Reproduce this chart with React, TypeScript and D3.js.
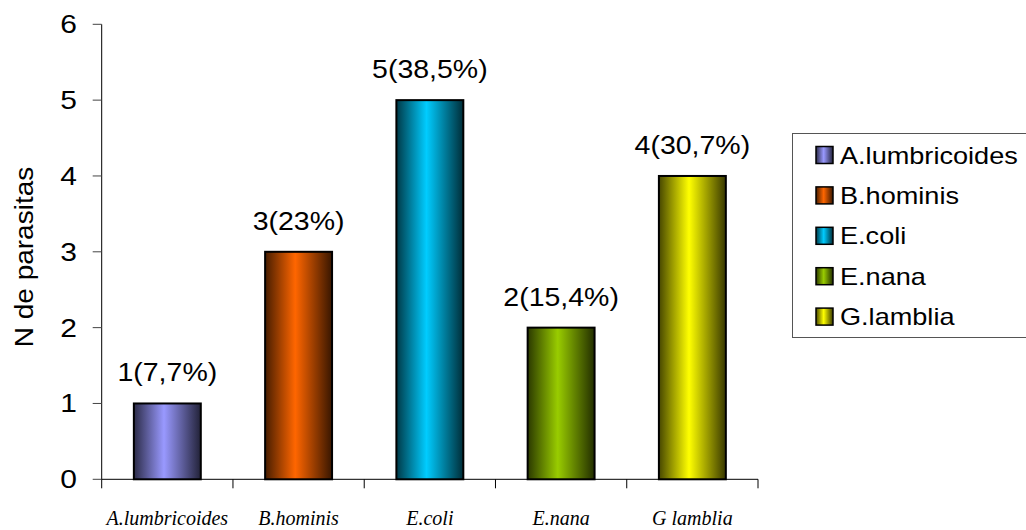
import React from "react";
import * as d3 from "d3";

// Parasite counts per species
const categories = ["A.lumbricoides", "B.hominis", "E.coli", "E.nana", "G.lamblia"];
const axisLabels = ["A.lumbricoides", "B.hominis", "E.coli", "E.nana", "G lamblia"];
const counts = [1, 3, 5, 2, 4];
const percents = ["7,7%", "23%", "38,5%", "15,4%", "30,7%"];
const colors = ["#9999FF", "#FF6600", "#00CCFF", "#99CC00", "#FFFF00"];
const yTicks = [0, 1, 2, 3, 4, 5, 6];

const W = 1026;
const H = 530;
const left = 101.7;
const right = 758;
const top = 24.3;
const bottom = 479.3;

const SANS = "'Liberation Sans', Arial, Helvetica, sans-serif";
const SERIF = "'Liberation Serif', 'Times New Roman', serif";
const SX = 1.12; // horizontal stretch of sans labels

export default function App() {
  const y = d3.scaleLinear().domain([0, 6]).range([bottom, top]);
  const x = d3
    .scaleBand<string>()
    .domain(categories)
    .range([left, right])
    .paddingInner(0.49)
    .paddingOuter(0.245);
  const step = x.step();
  const boundaries = d3.range(categories.length + 1).map((i) => left + i * step);

  const dark = (c: string, t: number) => d3.interpolateRgb("#000", c)(t);

  return (
    <svg
      width={W}
      height={H}
      style={{ position: "absolute", left: 0, top: 0, background: "#fff" }}
    >
      <defs>
        {colors.map((c, i) => (
          <linearGradient key={i} id={`g${i}`} x1="0" x2="1" y1="0" y2="0">
            <stop offset="0" stopColor={dark(c, 0.28)} />
            <stop offset="0.45" stopColor={c} />
            <stop offset="1" stopColor={dark(c, 0.22)} />
          </linearGradient>
        ))}
      </defs>

      {/* y axis */}
      <line x1={left} x2={left} y1={top} y2={bottom} stroke="#000" />
      {yTicks.map((t) => (
        <g key={t}>
          <line x1={left - 9} x2={left} y1={y(t)} y2={y(t)} stroke="#444" />
          <text
            transform={`translate(77,${y(t) + 9}) scale(1.2,1)`}
            textAnchor="end"
            fontFamily={SANS}
            fontSize={25}
            fill="#000"
          >
            {t}
          </text>
        </g>
      ))}
      <text
        transform={`translate(33,257) rotate(-90) scale(${SX},1)`}
        textAnchor="middle"
        fontFamily={SANS}
        fontSize={25}
        fill="#000"
      >
        N de parasitas
      </text>

      {/* x axis */}
      <line x1={left} x2={right} y1={bottom} y2={bottom} stroke="#000" />
      {boundaries.map((b, i) => (
        <line key={i} x1={b} x2={b} y1={bottom} y2={bottom + 9} stroke="#000" />
      ))}
      {categories.map((c, i) => (
        <text
          key={c}
          x={(x(c) as number) + x.bandwidth() / 2}
          y={525}
          textAnchor="middle"
          fontFamily={SERIF}
          fontStyle="italic"
          fontSize={20}
          fill="#000"
        >
          {axisLabels[i]}
        </text>
      ))}

      {/* bars */}
      {categories.map((c, i) => (
        <g key={c}>
          <rect
            x={x(c)}
            y={y(counts[i])}
            width={x.bandwidth()}
            height={y(0) - y(counts[i])}
            fill={`url(#g${i})`}
            stroke="#000"
            strokeWidth={2}
          />
          <text
            transform={`translate(${(x(c) as number) + x.bandwidth() / 2},${
              y(counts[i]) - 22
            }) scale(1.14,1)`}
            textAnchor="middle"
            fontFamily={SANS}
            fontSize={25}
            fill="#000"
          >
            {`${counts[i]}(${percents[i]})`}
          </text>
        </g>
      ))}

      {/* legend */}
      <rect x={792.5} y={133.5} width={240} height={204} fill="#fff" stroke="#555" />
      {categories.map((c, i) => {
        const cy = 155 + i * 40.4;
        return (
          <g key={c}>
            <rect
              x={816}
              y={cy - 8.5}
              width={17}
              height={17}
              fill={`url(#g${i})`}
              stroke="#000"
              strokeWidth={1.5}
            />
            <text
              transform={`translate(840,${cy + 8.5}) scale(1.13,1)`}
              fontFamily={SANS}
              fontSize={24}
              fill="#000"
            >
              {c}
            </text>
          </g>
        );
      })}
    </svg>
  );
}
